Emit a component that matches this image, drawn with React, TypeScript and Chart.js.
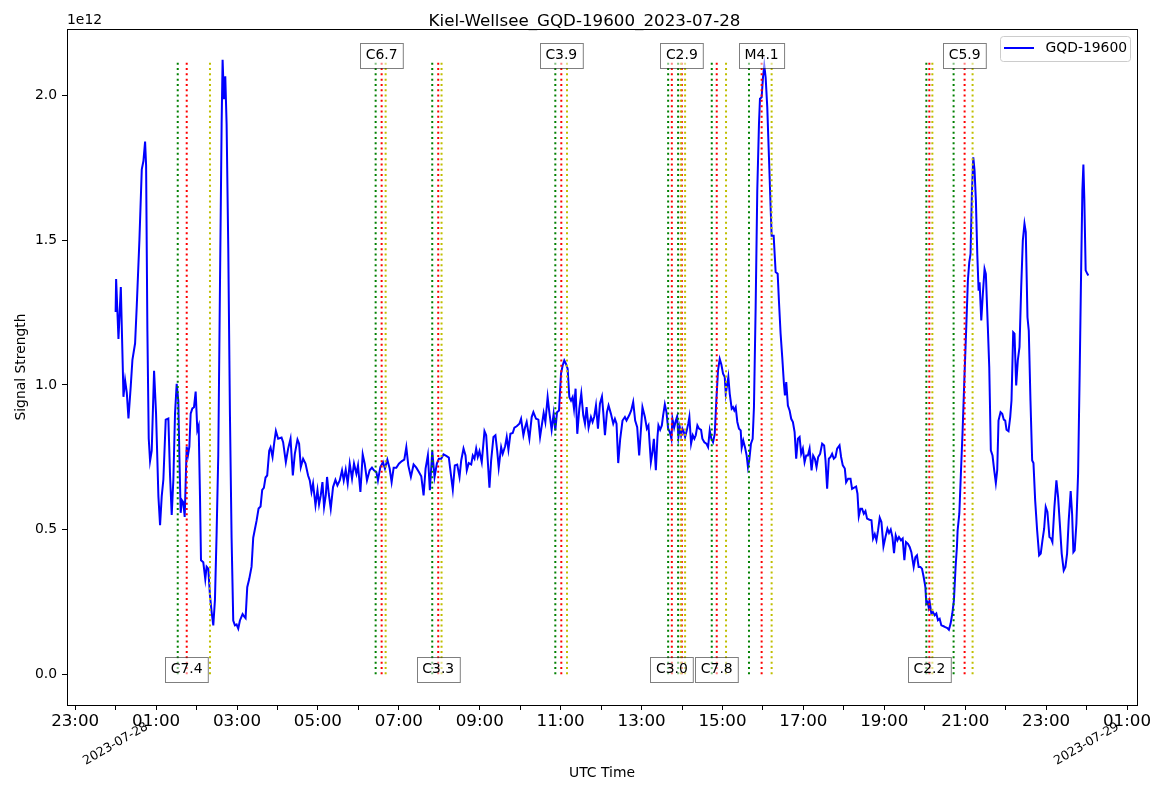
import React, { useEffect, useRef } from "react";
import { Chart, registerables } from "chart.js";

Chart.register(...registerables);

// ---------- data ----------
const TITLE = "Kiel-Wellsee_GQD-19600_2023-07-28";
const SERIES_LABEL = "GQD-19600";
const X_TITLE = "UTC Time";
const Y_TITLE = "Signal Strength";
const Y_OFFSET_TEXT = "1e12";

// hours since 2023-07-28 00:00 UTC
const TIME_H = [
  0.000, 0.012, 0.070, 0.128, 0.177, 0.193, 0.234, 0.276, 0.317, 0.374,
  0.415, 0.481, 0.522, 0.588, 0.646, 0.687, 0.728, 0.753, 0.785, 0.818,
  0.851, 0.892, 0.950, 0.999, 1.057, 1.098, 1.139, 1.180, 1.238, 1.303,
  1.345, 1.386, 1.427, 1.468, 1.509, 1.550, 1.575, 1.608, 1.641, 1.674,
  1.707, 1.756, 1.789, 1.822, 1.855, 1.896, 1.937, 1.978, 2.019, 2.052,
  2.085, 2.110, 2.167, 2.216, 2.249, 2.290, 2.332, 2.373, 2.414, 2.455,
  2.496, 2.537, 2.578, 2.620, 2.644, 2.677, 2.710, 2.743, 2.784, 2.825,
  2.866, 2.907, 2.948, 2.990, 3.031, 3.072, 3.138, 3.171, 3.212, 3.253,
  3.302, 3.360, 3.401, 3.442, 3.483, 3.533, 3.582, 3.623, 3.664, 3.705,
  3.746, 3.796, 3.829, 3.878, 3.920, 3.961, 4.017, 4.101, 4.140, 4.207,
  4.264, 4.323, 4.380, 4.429, 4.495, 4.535, 4.577, 4.634, 4.693, 4.757,
  4.799, 4.841, 4.880, 4.940, 4.989, 5.028, 5.070, 5.112, 5.152, 5.194,
  5.226, 5.268, 5.317, 5.374, 5.433, 5.482, 5.539, 5.596, 5.638, 5.687,
  5.736, 5.786, 5.843, 5.892, 5.951, 5.991, 6.050, 6.107, 6.156, 6.213,
  6.279, 6.336, 6.385, 6.445, 6.484, 6.543, 6.608, 6.657, 6.716, 6.773,
  6.822, 6.872, 6.938, 7.002, 7.076, 7.135, 7.185, 7.234, 7.298, 7.365,
  7.432, 7.496, 7.555, 7.612, 7.661, 7.718, 7.767, 7.826, 7.883, 7.940,
  7.989, 8.048, 8.105, 8.172, 8.236, 8.285, 8.334, 8.384, 8.443, 8.500,
  8.542, 8.599, 8.648, 8.680, 8.729, 8.789, 8.828, 8.870, 8.912, 8.951,
  8.993, 9.050, 9.117, 9.159, 9.198, 9.240, 9.282, 9.339, 9.388, 9.430,
  9.469, 9.529, 9.568, 9.627, 9.667, 9.709, 9.758, 9.815, 9.857, 9.914,
  9.980, 10.022, 10.079, 10.121, 10.160, 10.227, 10.284, 10.326, 10.392, 10.449,
  10.491, 10.540, 10.580, 10.622, 10.678, 10.720, 10.777, 10.826, 10.868, 10.910,
  10.960, 11.009, 11.049, 11.090, 11.132, 11.172, 11.214, 11.256, 11.295, 11.330,
  11.369, 11.411, 11.461, 11.510, 11.559, 11.601, 11.641, 11.690, 11.749, 11.789,
  11.831, 11.873, 11.922, 11.971, 12.021, 12.053, 12.095, 12.144, 12.184, 12.243,
  12.300, 12.341, 12.381, 12.423, 12.472, 12.529, 12.588, 12.628, 12.694, 12.744,
  12.793, 12.842, 12.892, 12.941, 12.983, 13.022, 13.082, 13.131, 13.170, 13.230,
  13.269, 13.304, 13.353, 13.393, 13.417, 13.459, 13.501, 13.533, 13.575, 13.615,
  13.657, 13.698, 13.738, 13.763, 13.805, 13.847, 13.879, 13.911, 13.945, 13.977,
  14.009, 14.044, 14.076, 14.118, 14.157, 14.182, 14.224, 14.266, 14.305, 14.340,
  14.380, 14.421, 14.471, 14.503, 14.552, 14.602, 14.644, 14.685, 14.725, 14.767,
  14.809, 14.848, 14.890, 14.932, 14.972, 15.014, 15.056, 15.081, 15.120, 15.145,
  15.179, 15.228, 15.260, 15.292, 15.327, 15.367, 15.408, 15.450, 15.475, 15.514,
  15.556, 15.598, 15.630, 15.662, 15.704, 15.746, 15.778, 15.820, 15.860, 15.902,
  15.927, 15.968, 16.001, 16.033, 16.067, 16.107, 16.149, 16.190, 16.215, 16.265,
  16.314, 16.364, 16.395, 16.437, 16.477, 16.519, 16.544, 16.576, 16.617, 16.659,
  16.699, 16.741, 16.783, 16.822, 16.864, 16.906, 16.945, 16.987, 17.029, 17.069,
  17.111, 17.153, 17.202, 17.242, 17.284, 17.325, 17.365, 17.414, 17.464, 17.513,
  17.547, 17.587, 17.629, 17.671, 17.710, 17.752, 17.794, 17.834, 17.893, 17.932,
  17.974, 18.024, 18.056, 18.105, 18.165, 18.203, 18.303, 18.337, 18.369, 18.411,
  18.450, 18.493, 18.534, 18.574, 18.633, 18.683, 18.722, 18.764, 18.806, 18.845,
  18.887, 18.929, 18.979, 19.028, 19.077, 19.117, 19.159, 19.201, 19.240, 19.282,
  19.324, 19.363, 19.413, 19.454, 19.496, 19.536, 19.585, 19.627, 19.669, 19.726,
  19.768, 19.807, 19.849, 19.891, 19.931, 19.973, 20.015, 20.039, 20.072, 20.096,
  20.121, 20.163, 20.202, 20.244, 20.286, 20.326, 20.368, 20.410, 20.466, 20.508,
  20.558, 20.597, 20.639, 20.681, 20.721, 20.762, 20.795, 20.812, 20.854, 20.893,
  20.935, 20.984, 21.026, 21.066, 21.100, 21.132, 21.165, 21.199, 21.231, 21.264,
  21.298, 21.331, 21.355, 21.397, 21.436, 21.478, 21.510, 21.559, 21.594, 21.633,
  21.675, 21.717, 21.757, 21.791, 21.823, 21.873, 21.915, 21.954, 21.989, 22.021,
  22.070, 22.112, 22.144, 22.186, 22.218, 22.260, 22.300, 22.342, 22.384, 22.424,
  22.465, 22.497, 22.539, 22.571, 22.613, 22.655, 22.687, 22.729, 22.778, 22.827,
  22.867, 22.909, 22.951, 22.990, 23.032, 23.082, 23.123, 23.155, 23.205, 23.254,
  23.296, 23.336, 23.385, 23.435, 23.477, 23.518, 23.558, 23.607, 23.642, 23.674,
  23.706, 23.748, 23.790, 23.829, 23.864, 23.896, 23.921, 23.945, 23.977, 24.019,
  24.044,
];

// signal strength, in units of 1e12
const SIGNAL = [
  1.252, 1.366, 1.159, 1.338, 1.059, 0.959, 1.016, 0.973, 0.884, 0.997,
  1.087, 1.144, 1.273, 1.502, 1.745, 1.774, 1.841, 1.759, 1.187, 0.815,
  0.737, 0.773, 1.049, 0.901, 0.615, 0.515, 0.615, 0.673, 0.880, 0.884,
  0.687, 0.551, 0.673, 0.901, 1.004, 0.944, 0.758, 0.558, 0.601, 0.594,
  0.544, 0.787, 0.758, 0.787, 0.901, 0.919, 0.923, 0.977, 0.844, 0.859,
  0.615, 0.394, 0.387, 0.329, 0.372, 0.365, 0.272, 0.215, 0.169, 0.258,
  0.487, 0.758, 1.330, 1.902, 2.124, 1.988, 2.067, 1.902, 1.473, 0.901,
  0.472, 0.186, 0.169, 0.172, 0.158, 0.186, 0.208, 0.201, 0.194, 0.301,
  0.329, 0.372, 0.472, 0.501, 0.530, 0.573, 0.580, 0.637, 0.644, 0.680,
  0.687, 0.773, 0.784, 0.751, 0.801, 0.841, 0.814, 0.818, 0.802, 0.733,
  0.780, 0.814, 0.687, 0.762, 0.811, 0.797, 0.716, 0.745, 0.728, 0.687,
  0.670, 0.630, 0.659, 0.584, 0.636, 0.587, 0.618, 0.664, 0.578, 0.618,
  0.682, 0.624, 0.572, 0.647, 0.672, 0.653, 0.670, 0.705, 0.670, 0.707,
  0.659, 0.728, 0.676, 0.728, 0.693, 0.722, 0.630, 0.760, 0.728, 0.670,
  0.705, 0.714, 0.705, 0.699, 0.670, 0.716, 0.733, 0.711, 0.742, 0.711,
  0.664, 0.714, 0.714, 0.728, 0.737, 0.742, 0.785, 0.722, 0.682, 0.725,
  0.714, 0.699, 0.684, 0.618, 0.711, 0.757, 0.636, 0.771, 0.682, 0.728,
  0.745, 0.745, 0.760, 0.755, 0.749, 0.693, 0.638, 0.722, 0.725, 0.682,
  0.739, 0.780, 0.756, 0.705, 0.730, 0.725, 0.756, 0.745, 0.780, 0.751,
  0.771, 0.733, 0.840, 0.826, 0.739, 0.645, 0.739, 0.820, 0.826, 0.774,
  0.714, 0.785, 0.762, 0.788, 0.820, 0.776, 0.831, 0.834, 0.852, 0.857,
  0.866, 0.883, 0.826, 0.854, 0.872, 0.814, 0.889, 0.906, 0.883, 0.880,
  0.820, 0.866, 0.903, 0.872, 0.958, 0.906, 0.845, 0.900, 0.843, 0.906,
  0.912, 1.039, 1.067, 1.085, 1.073, 1.056, 0.958, 0.946, 0.958, 0.918,
  0.987, 0.831, 0.918, 0.970, 0.895, 0.866, 0.923, 0.852, 0.889, 0.872,
  0.891, 0.929, 0.849, 0.935, 0.960, 0.906, 0.826, 0.906, 0.929, 0.900,
  0.866, 0.883, 0.866, 0.730, 0.814, 0.877, 0.889, 0.877, 0.895, 0.912,
  0.941, 0.877, 0.854, 0.756, 0.843, 0.923, 0.889, 0.849, 0.860, 0.733,
  0.768, 0.814, 0.705, 0.820, 0.860, 0.845, 0.860, 0.895, 0.933, 0.906,
  0.849, 0.837, 0.814, 0.883, 0.852, 0.877, 0.891, 0.820, 0.854, 0.826,
  0.849, 0.837, 0.820, 0.843, 0.868, 0.889, 0.797, 0.826, 0.814, 0.826,
  0.860, 0.849, 0.845, 0.814, 0.802, 0.797, 0.785, 0.843, 0.814, 0.802,
  0.831, 0.946, 1.050, 1.090, 1.071, 1.039, 1.027, 0.970, 1.004, 1.027,
  0.970, 0.918, 0.923, 0.912, 0.923, 0.872, 0.849, 0.843, 0.783, 0.808,
  0.785, 0.756, 0.716, 0.739, 0.797, 0.814, 0.923, 1.269, 1.672, 1.902,
  1.989, 1.994, 2.063, 2.104, 2.063, 1.960, 1.787, 1.614, 1.516, 1.516,
  1.390, 1.384, 1.292, 1.177, 1.096, 1.004, 0.964, 1.010, 0.929, 0.912,
  0.883, 0.872, 0.837, 0.745, 0.814, 0.820, 0.762, 0.780, 0.733, 0.756,
  0.756, 0.780, 0.705, 0.756, 0.745, 0.716, 0.751, 0.762, 0.797, 0.791,
  0.739, 0.641, 0.745, 0.751, 0.762, 0.745, 0.751, 0.780, 0.791, 0.751,
  0.722, 0.711, 0.664, 0.676, 0.676, 0.641, 0.649, 0.624, 0.546, 0.572,
  0.572, 0.555, 0.564, 0.538, 0.534, 0.532, 0.469, 0.484, 0.463, 0.497,
  0.541, 0.526, 0.442, 0.474, 0.503, 0.488, 0.500, 0.474, 0.419, 0.480,
  0.463, 0.474, 0.463, 0.469, 0.394, 0.457, 0.451, 0.440, 0.422, 0.371,
  0.405, 0.411, 0.371, 0.371, 0.365, 0.336, 0.302, 0.244, 0.250, 0.232,
  0.250, 0.210, 0.215, 0.204, 0.210, 0.187, 0.192, 0.169, 0.166, 0.163,
  0.160, 0.154, 0.175, 0.210, 0.256, 0.371, 0.440, 0.497, 0.555, 0.693,
  0.840, 1.039, 1.200, 1.361, 1.424, 1.453, 1.660, 1.787, 1.741, 1.637,
  1.453, 1.326, 1.355, 1.223, 1.315, 1.401, 1.384, 1.200, 1.062, 0.774,
  0.756, 0.705, 0.661, 0.705, 0.877, 0.906, 0.900, 0.880, 0.877, 0.845,
  0.840, 0.889, 0.946, 1.182, 1.177, 0.998, 1.085, 1.131, 1.338, 1.499,
  1.557, 1.528, 1.234, 1.188, 0.946, 0.739, 0.730, 0.601, 0.497, 0.411,
  0.417, 0.463, 0.503, 0.578, 0.561, 0.474, 0.469, 0.457, 0.578, 0.670,
  0.612, 0.526, 0.417, 0.359, 0.371, 0.417, 0.532, 0.633, 0.555, 0.422,
  0.428, 0.521, 0.693, 1.039, 1.384, 1.672, 1.762, 1.637, 1.396, 1.384,
  1.378,
];

// x-axis ticks (hours since 2023-07-28 00:00)
const X_TICK_HOURS = [
  -1, 0, 1, 2, 3, 4, 5, 6, 7, 8, 9, 10, 11, 12, 13,
  14, 15, 16, 17, 18, 19, 20, 21, 22, 23, 24, 25,
];
const X_TICK_LABELS = [
  "23:00", "", "01:00", "", "03:00", "", "05:00", "", "07:00", "", "09:00", "", "11:00", "", "13:00",
  "", "15:00", "", "17:00", "", "19:00", "", "21:00", "", "23:00", "", "01:00",
];
const DATE_TICK_HOURS = [0, 24];
const DATE_TICK_LABELS = ["2023-07-28", "2023-07-29"];

const Y_TICKS = [0, 0.5, 1.0, 1.5, 2.0];
const Y_TICK_LABELS = ["0.0", "0.5", "1.0", "1.5", "2.0"];

// flares (hours since 2023-07-28 00:00)
const FLARE_CLASS = ["C7.4", "C6.7", "C3.3", "C3.9", "C3.0", "C2.9", "C7.8", "M4.1", "C2.2", "C5.9"];
const FLARE_START = [1.535, 6.427, 7.826, 10.868, 13.657, 13.903, 14.735, 15.655, 20.039, 20.713];
const FLARE_PEAK = [1.757, 6.575, 7.974, 11.016, 13.748, 13.995, 14.858, 15.968, 20.113, 20.985];
const FLARE_END = [2.332, 6.674, 8.056, 11.157, 13.970, 14.076, 15.088, 16.215, 20.188, 21.182];

// ---------- styling ----------
const FONT = "'DejaVu Sans', 'Liberation Sans', sans-serif";
const W = 1169;
const H = 792;

export default function App() {
  const ref = useRef<HTMLCanvasElement | null>(null);

  useEffect(() => {
    const canvas = ref.current;
    if (!canvas) return;

    const yTop = Math.max(...SIGNAL);
    const t0 = TIME_H[0];
    const t1 = TIME_H[TIME_H.length - 1];
    const xMin = t0 - 0.05 * (t1 - t0);
    const xMax = t1 + 0.05 * (t1 - t0);
    const yMin = -0.05 * yTop;
    const yMax = yTop * 1.05;

    const vline = (t: number, color: string) => ({
      label: "",
      data: [
        { x: t, y: 0 },
        { x: t, y: yTop },
      ],
      borderColor: color,
      borderWidth: 2,
      borderDash: [2, 3.3],
      borderCapStyle: "butt" as const,
      pointRadius: 0,
      fill: false,
      order: 0,
    });

    const datasets: any[] = [
      {
        label: SERIES_LABEL,
        data: TIME_H.map((t, i) => ({ x: t, y: SIGNAL[i] })),
        borderColor: "#0000ff",
        borderWidth: 2,
        pointRadius: 0,
        fill: false,
        tension: 0,
        order: 1,
      },
    ];
    FLARE_CLASS.forEach((_, i) => {
      datasets.push(vline(FLARE_START[i], "#008000"));
      datasets.push(vline(FLARE_PEAK[i], "#ff0000"));
      datasets.push(vline(FLARE_END[i], "#bfbf00"));
    });

    const decor = {
      id: "decor",
      afterDraw(chart: any) {
        const { ctx, chartArea: ca, scales } = chart;
        const xs = scales.x;
        const ys = scales.y;
        ctx.save();

        // full frame (spines)
        ctx.strokeStyle = "#000";
        ctx.lineWidth = 1;
        ctx.strokeRect(Math.round(ca.left) + 0.5, Math.round(ca.top) + 0.5,
          Math.round(ca.right - ca.left), Math.round(ca.bottom - ca.top));

        ctx.fillStyle = "#000";
        // title
        ctx.font = `16.7px ${FONT}`;
        ctx.textAlign = "center";
        ctx.textBaseline = "middle";
        ctx.fillText(TITLE, W / 2, 22);

        // offset text
        ctx.font = `13.9px ${FONT}`;
        ctx.textAlign = "left";
        ctx.fillText(Y_OFFSET_TEXT, ca.left, 20);

        // axis titles
        ctx.textAlign = "center";
        ctx.fillText(X_TITLE, (ca.left + ca.right) / 2, 773);
        ctx.save();
        ctx.translate(21, (ca.top + ca.bottom) / 2);
        ctx.rotate(-Math.PI / 2);
        ctx.fillText(Y_TITLE, 0, 0);
        ctx.restore();

        // date labels (rotated)
        ctx.font = `12.5px ${FONT}`;
        DATE_TICK_HOURS.forEach((h, i) => {
          const px = xs.getPixelForValue(h);
          ctx.save();
          ctx.translate(px, 744);
          ctx.rotate(-Math.PI / 6);
          ctx.textAlign = "center";
          ctx.textBaseline = "middle";
          ctx.fillText(DATE_TICK_LABELS[i], 0, 0);
          ctx.restore();
        });

        // flare labels
        ctx.font = `13.9px ${FONT}`;
        const yTopPx = ys.getPixelForValue(yTop);
        const yZeroPx = ys.getPixelForValue(0);
        FLARE_CLASS.forEach((label, i) => {
          const px = xs.getPixelForValue(FLARE_PEAK[i]);
          const isTop = i % 2 === 1;
          const cy = isTop ? yTopPx - 4.5 : yZeroPx - 5;
          const tw = ctx.measureText(label).width;
          const bw = tw + 11;
          const bh = 25;
          const bx = Math.round(px - bw / 2) + 0.5;
          const by = Math.round(cy - bh / 2) + 0.5;
          ctx.fillStyle = "rgba(255,255,255,0.5)";
          ctx.fillRect(bx, by, bw, bh);
          ctx.strokeStyle = "rgba(0,0,0,0.5)";
          ctx.lineWidth = 1;
          ctx.strokeRect(bx, by, bw, bh);
          ctx.fillStyle = "#000";
          ctx.textAlign = "center";
          ctx.textBaseline = "middle";
          ctx.fillText(label, px, cy + 0.5);
        });

        // legend
        const lx = 1000.5;
        const ly = 36.5;
        const lw = 130;
        const lh = 25;
        const r = 3;
        ctx.beginPath();
        ctx.moveTo(lx + r, ly);
        ctx.lineTo(lx + lw - r, ly);
        ctx.quadraticCurveTo(lx + lw, ly, lx + lw, ly + r);
        ctx.lineTo(lx + lw, ly + lh - r);
        ctx.quadraticCurveTo(lx + lw, ly + lh, lx + lw - r, ly + lh);
        ctx.lineTo(lx + r, ly + lh);
        ctx.quadraticCurveTo(lx, ly + lh, lx, ly + lh - r);
        ctx.lineTo(lx, ly + r);
        ctx.quadraticCurveTo(lx, ly, lx + r, ly);
        ctx.closePath();
        ctx.fillStyle = "rgba(255,255,255,0.8)";
        ctx.fill();
        ctx.strokeStyle = "#cccccc";
        ctx.lineWidth = 1;
        ctx.stroke();
        ctx.beginPath();
        ctx.strokeStyle = "#0000ff";
        ctx.lineWidth = 2;
        ctx.moveTo(1004, 48);
        ctx.lineTo(1034, 48);
        ctx.stroke();
        ctx.fillStyle = "#000";
        ctx.font = `13.9px ${FONT}`;
        ctx.textAlign = "left";
        ctx.textBaseline = "middle";
        ctx.fillText(SERIES_LABEL, 1045.5, 48.5);

        ctx.restore();
      },
    };

    const chart = new Chart(canvas, {
      type: "line",
      data: { datasets },
      options: {
        animation: false,
        responsive: false,
        devicePixelRatio: 1,
        events: [],
        layout: { padding: { left: 0, top: 29, right: 32, bottom: 0 } },
        plugins: {
          legend: { display: false },
          tooltip: { enabled: false },
          title: { display: false },
        },
        scales: {
          x: {
            type: "linear",
            min: xMin,
            max: xMax,
            afterFit: (s: any) => {
              s.height = 87;
            },
            afterBuildTicks: (s: any) => {
              s.ticks = X_TICK_HOURS.map((v) => ({ value: v }));
            },
            ticks: {
              autoSkip: false,
              maxRotation: 0,
              minRotation: 0,
              color: "#000",
              padding: 2,
              font: { family: FONT, size: 16.7 },
              callback: (v: any) => {
                const idx = X_TICK_HOURS.indexOf(Number(v));
                return idx >= 0 ? X_TICK_LABELS[idx] : "";
              },
            },
            grid: {
              display: true,
              drawOnChartArea: false,
              drawTicks: true,
              tickLength: 5,
              color: "#000",
              lineWidth: 1,
            },
            border: { display: true, color: "#000", width: 1 },
          },
          y: {
            type: "linear",
            min: yMin,
            max: yMax,
            afterFit: (s: any) => {
              s.width = 67;
            },
            afterBuildTicks: (s: any) => {
              s.ticks = Y_TICKS.map((v) => ({ value: v }));
            },
            ticks: {
              color: "#000",
              padding: 5,
              font: { family: FONT, size: 13.9 },
              callback: (v: any) => {
                const idx = Y_TICKS.indexOf(Number(v));
                return idx >= 0 ? Y_TICK_LABELS[idx] : "";
              },
            },
            grid: {
              display: true,
              drawOnChartArea: false,
              drawTicks: true,
              tickLength: 5,
              color: "#000",
              lineWidth: 1,
            },
            border: { display: true, color: "#000", width: 1 },
          },
        },
      } as any,
      plugins: [decor],
    });

    return () => chart.destroy();
  }, []);

  return (
    <div style={{ position: "fixed", left: 0, top: 0, width: W, height: H, background: "#fff" }}>
      <canvas ref={ref} width={W} height={H} style={{ display: "block", width: W, height: H }} />
    </div>
  );
}
